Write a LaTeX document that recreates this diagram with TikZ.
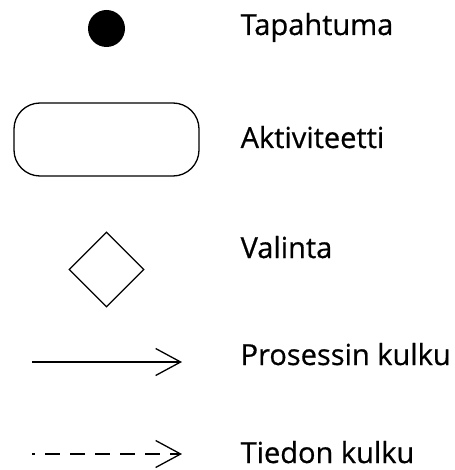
\documentclass[tikz,border=0pt]{standalone}
\usepackage{fontspec}
\setmainfont{Open Sans}
\newfontfamily\labelfont[FakeBold=0.6]{Open Sans}
\usetikzlibrary{arrows.meta,shapes.geometric}
\begin{document}
\begin{tikzpicture}[x=1pt,y=-1pt,
  line width=1.3pt,
  legendlabel/.style={anchor=base west,inner sep=0pt,font=\labelfont\fontsize{29}{32}\selectfont},
  flowtip/.style={-{Straight Barb[length=25pt,width=27pt,line width=1.3pt]}},
]
\useasboundingbox (0,0) rectangle (454,470);

% symbols
\node (ev) [circle,fill=black,draw=none,minimum size=37pt,inner sep=0pt] at (106.5,28.5) {};
\node (act) [draw,rounded corners=26pt,minimum width=185pt,minimum height=73pt,inner sep=0pt] at (106.5,139.5) {};
\node (ch) [draw,diamond,minimum width=75pt,minimum height=75pt,inner sep=0pt,shape aspect=1] at (106.5,269.5) {};

% connector samples
\coordinate (p0) at (32,362);
\coordinate (p1) at (182,362);
\coordinate (d0) at (32,454);
\coordinate (d1) at (182,454);
\draw[flowtip] (p0) -- (p1);
\draw[flowtip,dash pattern=on 15pt off 10pt,dash phase=12pt] (d0) -- (d1);

% labels
\node (l1) [legendlabel] at (240,35) {Tapahtuma};
\node (l2) [legendlabel] at (240,148) {Aktiviteetti};
\node (l3) [legendlabel] at (240,258) {Valinta};
\node (l4) [legendlabel] at (240,365) {Prosessin kulku};
\node (l5) [legendlabel] at (240,463) {Tiedon kulku};
\end{tikzpicture}
\end{document}
